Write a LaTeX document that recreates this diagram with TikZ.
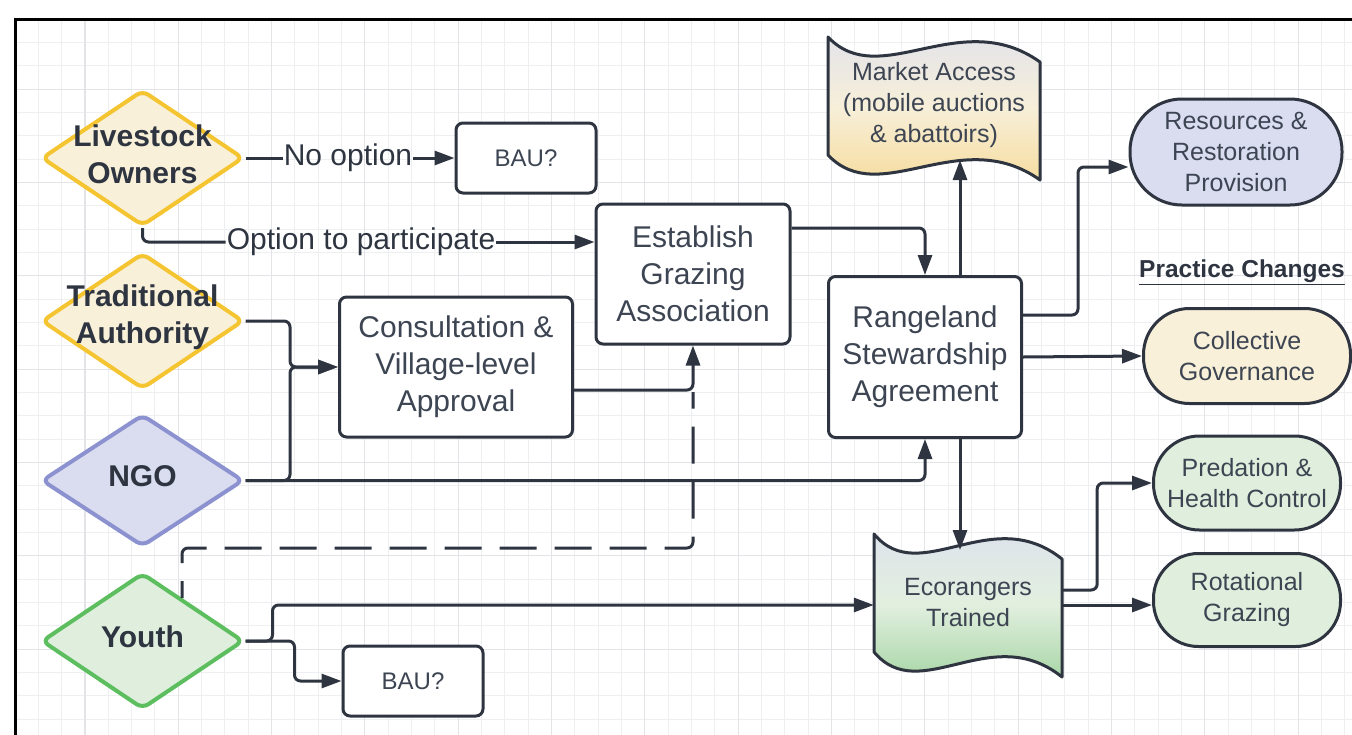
\documentclass[tikz,border=0pt]{standalone}
\usepackage{fontspec}
\setmainfont{Liberation Sans}
\usetikzlibrary{shapes.geometric,arrows.meta}

\definecolor{inkc}{HTML}{2E3541}
\definecolor{txtc}{HTML}{3D4553}
\definecolor{gridc}{HTML}{EDEFF1}
\definecolor{gridm}{HTML}{E2E4E7}
\definecolor{yelfill}{HTML}{F8F0D8}
\definecolor{yeldraw}{HTML}{F5C531}
\definecolor{lavfill}{HTML}{DADCEF}
\definecolor{lavdraw}{HTML}{8B92CF}
\definecolor{grnfill}{HTML}{E0EFDD}
\definecolor{grndraw}{HTML}{5CBE5E}
\definecolor{lavtop}{HTML}{DCDFF1}
\definecolor{creamc}{HTML}{F7EFD9}
\definecolor{mktbot}{HTML}{F6D68A}
\definecolor{ecomid}{HTML}{E2EFDF}
\definecolor{ecobot}{HTML}{93CD92}

\tikzset{
  actor/.style={diamond, draw, line width=4pt, rounded corners=7pt,
    minimum width=202pt, minimum height=136pt, inner sep=0pt},
  actortext/.style={font=\fontsize{30}{37}\selectfont\bfseries, text=inkc,
    align=center, yshift=4pt},
  stepbox/.style={draw=inkc, line width=3pt, rounded corners=7pt, fill=white,
    text=txtc, align=center, font=\fontsize{30}{37}\selectfont},
  baubox/.style={stepbox, font=\fontsize{24}{30}\selectfont,
    minimum width=140pt, minimum height=70pt},
  outcome/.style={draw=inkc, line width=3pt, rounded corners=#1, text=txtc,
    align=center, font=\fontsize{25}{31}\selectfont, inner sep=0pt},
  wavetext/.style={text=txtc, align=center, font=\fontsize{25}{31}\selectfont},
  flowtext/.style={font=\fontsize{30}{37}\selectfont, text=inkc, inner sep=1pt},
  link/.style={draw=inkc, line width=3pt, rounded corners=6pt},
  arr/.style={link, -{Triangle[length=20pt,width=14pt]}},
  gridline/.style={draw=gridc, line width=1pt},
}

\begin{document}
\begin{tikzpicture}[x=1pt,y=-1pt]
  \useasboundingbox (0,0) rectangle (1352,734);
  \clip (0,0) rectangle (1352,734);

  % Background grid
  \foreach \i in {0,...,57}
    \draw[gridline] ({15+23.333*\i},19) -- ({15+23.333*\i},740);
  \foreach \j in {0,...,31}
    \draw[gridline] (15,{19+23.333*\j}) -- (1360,{19+23.333*\j});
  \foreach \i in {3,7,...,55}
    \draw[gridline, draw=gridm] ({15+23.333*\i},19) -- ({15+23.333*\i},740);
  \foreach \j in {3,7,...,31}
    \draw[gridline, draw=gridm] (15,{19+23.333*\j}) -- (1360,{19+23.333*\j});
  \draw[line width=3pt] (15,740) -- (15,19.5) -- (1360,19.5);

  % Actors
  \node[actor, draw=yeldraw, fill=yelfill] (lo) at (142.5,158) {};
  \node[actor, draw=yeldraw, fill=yelfill] (ta) at (142.5,321) {};
  \node[actor, draw=lavdraw, fill=lavfill, minimum height=132pt] (ngo) at (142.5,480.5) {};
  \node[actor, draw=grndraw, fill=grnfill] (youth) at (142.5,641) {};
  \node[actortext] (lotxt) at (lo) {Livestock\\Owners};
  \node[actortext] (tatxt) at (ta) {Traditional\\Authority};
  \node[actortext] (ngotxt) at (ngo) {NGO};
  \node[actortext] (youthtxt) at (youth) {Youth};

  % Boxes
  \node[baubox] (bau1) at (526,158) {BAU?};
  \node[baubox] (bau2) at (413,681) {BAU?};
  \node[stepbox, minimum width=194pt, minimum height=140pt] (est) at (693,274)
    {Establish\\Grazing\\Association};
  \node[stepbox, minimum width=233pt, minimum height=140pt] (cons) at (456,367)
    {Consultation \&\\Village-level\\Approval};
  \node[stepbox, minimum width=193pt, minimum height=161pt] (rsa) at (925,357)
    {Rangeland\\Stewardship\\Agreement};

  % Wavy boxes
  \path[draw=inkc, line width=3pt, line join=round,
        top color=lavtop, bottom color=mktbot, middle color=creamc]
    (828,37) .. controls (880,92) and (960,5) .. (1040,62) -- (1040,180)
    .. controls (960,123) and (880,210) .. (828,155) -- cycle;
  \path[draw=inkc, line width=3pt, line join=round,
        top color=lavtop, bottom color=ecobot, middle color=ecomid]
    (874,534) .. controls (920,589) and (991,502) .. (1062,559) -- (1062,677)
    .. controls (991,620) and (920,707) .. (874,652) -- cycle;
  \node[wavetext, minimum width=212pt, minimum height=110pt] (mkt) at (934,105)
    {Market Access\\(mobile auctions\\\& abattoirs)};
  \node[wavetext, minimum width=188pt, minimum height=102pt] (eco) at (968,603)
    {Ecorangers\\Trained};
  \coordinate (mktin) at (960,160);
  \coordinate (ecoin) at (960,550);

  % Practice changes
  \node[outcome=52pt, fill=lavfill, minimum width=212pt, minimum height=106pt]
    (res) at (1236,152) {Resources \&\\Restoration\\Provision};
  \node[anchor=west, text=inkc, inner sep=1pt,
        font=\fontsize{24.5}{28}\selectfont\bfseries]
    (pchg) at (1138,272) {\underline{Practice Changes}};
  \node[outcome=46pt, fill=yelfill, minimum width=207pt, minimum height=95pt]
    (col) at (1247,356) {Collective\\Governance};
  \node[outcome=46pt, fill=grnfill, minimum width=187pt, minimum height=94pt]
    (pred) at (1247,483) {Predation \&\\Health Control};
  \node[outcome=45pt, fill=grnfill, minimum width=187pt, minimum height=93pt]
    (rot) at (1247,600) {Rotational\\Grazing};

  % Labels
  \node[flowtext] (noopt) at (348,158) {No option};
  \node[flowtext] (optp) at (361,242) {Option to participate};

  % Arrows
  \draw[link] (lo.east) -- (noopt.west);
  \draw[arr] (noopt.east) -- (bau1.west);
  \draw[link] (lo.south) |- (optp.west);
  \draw[arr] (optp.east) -- (optp.east -| est.west);
  \coordinate (tajoin) at (290,367);
  \draw[arr] (ta.east) -| (tajoin) -- (cons.west);
  \draw[arr] (ngo.east) -| (tajoin) -- (cons.west);
  \draw[arr] (ngo.east) -| (rsa.south);
  \draw[arr] ([yshift=-23pt]cons.east) -| (est.south);
  \coordinate (ydash) at (182,598);
  \coordinate (dashc) at (693,548);
  \coordinate (dashtop) at (693,392);
  \draw[link, dash pattern=on 37pt off 18pt, dash phase=20pt]
    (ydash) |- (dashc) -- (dashtop);
  \draw[arr] (youth.east) -- ++(27,0) |- ([yshift=-2pt]eco.west);
  \draw[arr] (youth.east) -- ++(49,0) |- (bau2.west);
  \draw[arr] ([yshift=46pt]est.east) -| (rsa.north);
  \draw[arr] (rsa.north -| mktin) -- (mktin);
  \draw[arr] (rsa.south -| ecoin) -- (ecoin);
  \draw[arr] ([yshift=42pt]rsa.east) -- ++(55,0) |- ([yshift=-15pt]res.west);
  \draw[arr] (rsa.east) -- (col.west);
  \draw[arr] ([yshift=13pt]eco.east) -- ++(35,0) |- (pred.west);
  \draw[arr] ([yshift=-2pt]eco.east) -- ([yshift=-5pt]rot.west);
\end{tikzpicture}
\end{document}
